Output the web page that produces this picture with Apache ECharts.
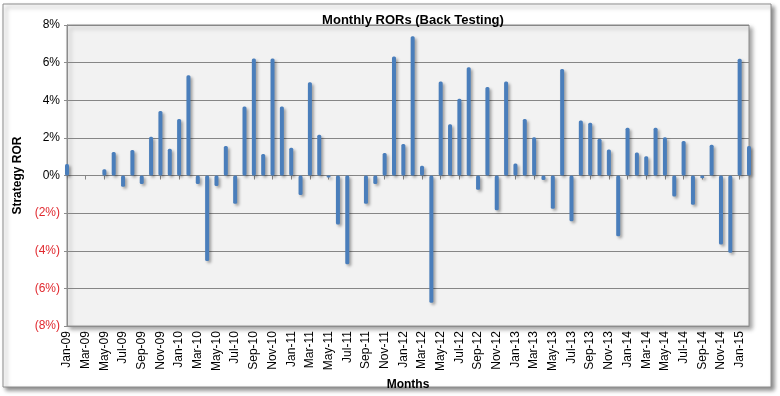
<!DOCTYPE html>
<html>
<head>
<meta charset="utf-8">
<script src="https://cdn.jsdelivr.net/npm/echarts@6/dist/echarts.min.js"></script>
<style>
  html, body { margin: 0; padding: 0; background: #fff; }
  #chart { width: 780px; height: 396px; }
</style>
</head>
<body>
<div id="chart"></div>
<script>
  // months Jan-09 .. Feb-15
  const monthNames = ['Jan', 'Feb', 'Mar', 'Apr', 'May', 'Jun', 'Jul', 'Aug', 'Sep', 'Oct', 'Nov', 'Dec']
  const years = ['09', '10', '11', '12', '13', '14', '15']
  const months = []
  for (let y = 0; y < years.length; y++) {
    for (let m = 0; m < 12; m++) {
      if (years[y] === '15' && m > 1) break
      months.push(monthNames[m] + '-' + years[y])
    }
  }

  // strategy ROR, in percent
  const ror = [
    0.62, 0, 0, 0, 0.33, 1.25, -0.59, 1.36, -0.45, 2.06, 3.43, 1.43,
    3.01, 5.33, -0.45, -4.54, -0.55, 1.57, -1.5, 3.67, 6.22, 1.15, 6.22, 3.67,
    1.48, -1.03, 4.96, 2.17, -0.1, -2.6, -4.71, 0, -1.5, -0.45, 1.2, 6.32,
    1.67, 7.4, 0.52, -6.76, 5.0, 2.73, 4.08, 5.75, -0.76, 4.7, -1.85, 5.0,
    0.64, 3.01, 2.03, -0.24, -1.76, 5.66, -2.43, 2.92, 2.8, 1.96, 1.38, -3.22,
    2.54, 1.22, 1.03, 2.54, 2.04, -1.11, 1.83, -1.55, -0.15, 1.64, -3.66, -4.1,
    6.2, 1.57
  ]

  const yMin = -8
  const yMax = 8
  const yStep = 2

  const chart = echarts.init(document.getElementById('chart'))
  const font = 'Liberation Sans, Arial, sans-serif'

  chart.setOption({
    animation: false,
    graphic: [{
      type: 'rect',
      z: -10,
      shape: { x: 3, y: 4, width: 768, height: 383 },
      style: {
        fill: '#fff',
        stroke: '#8c8c8c',
        lineWidth: 1,
        shadowColor: 'rgba(0,0,0,0.45)',
        shadowBlur: 4,
        shadowOffsetX: 3,
        shadowOffsetY: 3
      }
    }],
    title: {
      text: 'Monthly RORs (Back Testing)',
      left: 408,
      top: 9,
      textAlign: 'center',
      textStyle: {
        fontFamily: font,
        fontSize: 13,
        fontWeight: 'bold',
        color: '#000'
      }
    },
    grid: {
      left: 67,
      right: 31,
      top: 25,
      bottom: 69,
      show: true,
      backgroundColor: '#f2f2f2',
      borderColor: '#8c8c8c',
      borderWidth: 1,
      shadowColor: 'rgba(0,0,0,0.35)',
      shadowBlur: 4,
      shadowOffsetX: 3,
      shadowOffsetY: 3
    },
    xAxis: [{
      type: 'category',
      data: months,
      boundaryGap: false,
      position: 'bottom',
      name: 'Months',
      nameLocation: 'middle',
      nameGap: 52,
      nameTextStyle: { fontFamily: font, fontSize: 12, fontWeight: 'bold', color: '#000' },
      axisLine: { onZero: false, lineStyle: { color: '#8c8c8c' } },
      axisTick: { show: false },
      axisLabel: {
        interval: 1,
        rotate: 90,
        margin: 5,
        fontFamily: font,
        fontSize: 12,
        color: '#000'
      },
      splitLine: { show: false }
    }, {
      type: 'category',
      data: months,
      boundaryGap: false,
      position: 'bottom',
      axisLine: { onZero: true, lineStyle: { color: '#868686' } },
      axisTick: { show: true, interval: 1, length: 4, lineStyle: { color: '#868686' } },
      axisLabel: { show: false },
      splitLine: { show: false }
    }],
    yAxis: {
      type: 'value',
      min: yMin,
      max: yMax,
      interval: yStep,
      name: 'Strategy ROR',
      nameLocation: 'middle',
      nameGap: 40,
      nameTextStyle: { fontFamily: font, fontSize: 12, fontWeight: 'bold', color: '#000' },
      axisLine: { show: true, lineStyle: { color: '#8c8c8c' } },
      axisTick: { show: true, length: 3, lineStyle: { color: '#8c8c8c' } },
      axisLabel: {
        margin: 7,
        fontFamily: font,
        fontSize: 12,
        formatter: function (v) {
          if (v < 0) return '{neg|(' + Math.abs(v) + '%)}'
          return '{pos|' + v + '%}'
        },
        rich: {
          pos: { color: '#000', fontFamily: font, fontSize: 12 },
          neg: { color: '#e0282e', fontFamily: font, fontSize: 12 }
        }
      },
      splitLine: { show: true, lineStyle: { color: '#868686', width: 1 } }
    },
    series: [{
      name: 'Strategy ROR',
      type: 'bar',
      xAxisIndex: 0,
      data: ror,
      barWidth: 4,
      itemStyle: {
        color: '#4a7ebb',
        borderRadius: 1.5,
        shadowColor: 'rgba(0,0,0,0.35)',
        shadowBlur: 3,
        shadowOffsetX: 2,
        shadowOffsetY: 2
      }
    }]
  })
</script>
</body>
</html>
